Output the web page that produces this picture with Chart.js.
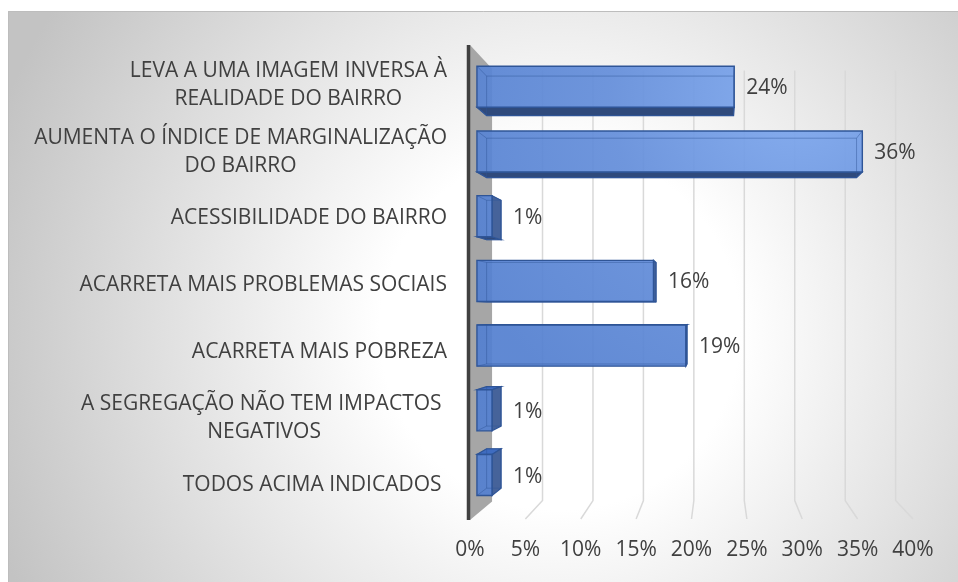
<!DOCTYPE html>
<html><head><meta charset="utf-8">
<script src="https://cdn.jsdelivr.net/npm/chart.js@4.4.1/dist/chart.umd.min.js"></script>
<style>html,body{margin:0;padding:0;background:#fff;overflow:hidden}canvas{display:block}</style>
</head><body>
<canvas id="c" width="958" height="582"></canvas>
<script>
// ---- data ----
const categories = [
  ["LEVA A UMA IMAGEM INVERSA À", "REALIDADE DO BAIRRO"],
  ["AUMENTA O ÍNDICE DE MARGINALIZAÇÃO", "DO BAIRRO"],
  ["ACESSIBILIDADE DO BAIRRO"],
  ["ACARRETA MAIS PROBLEMAS SOCIAIS"],
  ["ACARRETA MAIS POBREZA"],
  ["A SEGREGAÇÃO NÃO TEM IMPACTOS ", "NEGATIVOS"],
  ["TODOS ACIMA INDICADOS "]
];
const values = [23.9, 35.8, 1.4, 16.4, 19.4, 1.4, 1.4];
const tickValues = [0, 5, 10, 15, 20, 25, 30, 35, 40];

// ---- style ----
const FONT = "'Open Sans', 'DejaVu Sans', sans-serif";
const FS = 21;
const TEXT = '#404040';
const VP = {x: 718, y: 312};          // perspective vanishing point
const G_FRONT = 0.972, G_BACK = 0.933, G_WALL = 0.911;
function proj(x, y, g) { return [VP.x + (x - VP.x) * g, VP.y + (y - VP.y) * g]; }
function poly(ctx, pts, fill, stroke, lw) {
  ctx.beginPath(); ctx.moveTo(pts[0][0], pts[0][1]);
  for (let i = 1; i < pts.length; i++) ctx.lineTo(pts[i][0], pts[i][1]);
  ctx.closePath();
  if (fill) { ctx.fillStyle = fill; ctx.fill(); }
  if (stroke) { ctx.strokeStyle = stroke; ctx.lineWidth = lw || 1; ctx.stroke(); }
}

const bgPlugin = {
  id: 'bg',
  beforeDraw(chart) {
    const c = chart.ctx, W = chart.width, H = chart.height;
    c.save();
    c.fillStyle = '#fff'; c.fillRect(0, 0, W, H);
    const g = c.createRadialGradient(560, 330, 0, 560, 330, 600);
    g.addColorStop(0, '#ffffff'); g.addColorStop(0.3, '#ffffff'); g.addColorStop(1, '#c3c3c3');
    c.fillStyle = g; c.fillRect(8, 11, W - 8, H - 11);
    c.strokeStyle = '#bdbdbd'; c.lineWidth = 1;
    c.beginPath(); c.moveTo(8.5, H); c.lineTo(8.5, 11.5); c.lineTo(W, 11.5); c.stroke();
    c.restore();
  }
};

const wallPlugin = {
  id: 'wall',
  beforeDatasetsDraw(chart) {
    const c = chart.ctx, xs = chart.scales.x, ca = chart.chartArea;
    const floorY = ca.bottom + 6, topY = ca.top;
    c.save();
    c.strokeStyle = '#d9d9d9'; c.lineWidth = 1.5;
    tickValues.forEach(v => {
      if (v === 0) return;
      const X = xs.getPixelForValue(v);
      const t = proj(X, topY, G_WALL), b = proj(X, floorY, G_WALL);
      c.beginPath(); c.moveTo(t[0], t[1]); c.lineTo(b[0], b[1]); c.lineTo(X, floorY); c.stroke();
    });
    const X0 = xs.getPixelForValue(0);
    const ft = [X0, ca.top - 2], fb = [X0, floorY + 1];
    poly(c, [ft, proj(ft[0], ft[1], G_WALL), proj(fb[0], fb[1], G_WALL), fb], '#a6a6a6');
    c.strokeStyle = '#404040'; c.lineWidth = 3.5;
    c.beginPath(); c.moveTo(X0 - 1.5, ca.top - 2); c.lineTo(X0 - 1.5, floorY + 1); c.stroke();
    c.restore();
  }
};

const barsPlugin = {
  id: 'bars3d',
  afterDatasetsDraw(chart) {
    const c = chart.ctx, meta = chart.getDatasetMeta(0);
    c.save();
    const grad = c.createRadialGradient(800, 90, 0, 800, 90, 380);
    grad.addColorStop(0, 'rgba(128,170,240,0.93)');
    grad.addColorStop(0.5, 'rgba(100,142,218,0.93)');
    grad.addColorStop(1, 'rgba(84,128,208,0.93)');
    meta.data.forEach((el, i) => {
      const p = el.getProps(['x', 'y', 'base', 'height'], true);
      const x0 = Math.min(p.base, p.x), x1 = Math.max(p.base, p.x);
      const y0 = p.y - p.height / 2, y1 = p.y + p.height / 2;
      const F = {tl: proj(x0, y0, G_FRONT), tr: proj(x1, y0, G_FRONT), br: proj(x1, y1, G_FRONT), bl: proj(x0, y1, G_FRONT)};
      const B = {tl: proj(x0, y0, G_BACK), tr: proj(x1, y0, G_BACK), br: proj(x1, y1, G_BACK), bl: proj(x0, y1, G_BACK)};
      const edge = '#2f5597';
      if (B.bl[1] > F.bl[1]) poly(c, [F.bl, F.br, B.br, B.bl], '#2f4a7c', edge, 1.2);
      if (B.tl[1] < F.tl[1]) poly(c, [F.tl, F.tr, B.tr, B.tl], '#3f6cc0', edge, 1.2);
      if (B.tr[0] > F.tr[0]) poly(c, [F.tr, F.br, B.br, B.tr], '#46639a', edge, 1.2);
      poly(c, [F.tl, F.tr, F.br, F.bl], grad, edge, 1.4);
      c.strokeStyle = 'rgba(47,85,151,0.45)'; c.lineWidth = 1;
      c.beginPath();
      c.moveTo(B.tl[0], B.tl[1]); c.lineTo(B.tr[0], B.tr[1]); c.lineTo(B.br[0], B.br[1]); c.lineTo(B.bl[0], B.bl[1]); c.closePath();
      c.moveTo(F.tl[0], F.tl[1]); c.lineTo(B.tl[0], B.tl[1]);
      c.moveTo(F.tr[0], F.tr[1]); c.lineTo(B.tr[0], B.tr[1]);
      c.moveTo(F.bl[0], F.bl[1]); c.lineTo(B.bl[0], B.bl[1]);
      c.stroke();
      c.fillStyle = TEXT; c.font = FS + 'px ' + FONT;
      c.textAlign = 'left'; c.textBaseline = 'alphabetic';
      const lx = Math.max(F.tr[0], B.tr[0]) + 12;
      const ly = (F.tl[1] + F.bl[1]) / 2 + 7.5;
      c.fillText(Math.round(values[i]) + '%', lx, ly);
    });
    c.restore();
  }
};

const catLabelPlugin = {
  id: 'catLabels',
  afterDraw(chart) {
    const c = chart.ctx, ys = chart.scales.y, xs = chart.scales.x;
    c.save();
    c.fillStyle = TEXT; c.font = FS + 'px ' + FONT;
    c.textAlign = 'center'; c.textBaseline = 'alphabetic';
    const right = xs.left - 23;
    categories.forEach((lines, i) => {
      const Y = ys.getPixelForValue(i) + 3.5;
      const w = Math.max(...lines.map(s => c.measureText(s).width));
      const cx = right - w / 2;
      const n = lines.length;
      lines.forEach((s, j) => c.fillText(s, cx, Y + (j - (n - 1) / 2) * 28 + 7.5));
    });
    c.restore();
  }
};

new Chart(document.getElementById('c'), {
  type: 'bar',
  data: {
    labels: categories,
    datasets: [{
      data: values,
      backgroundColor: 'rgba(0,0,0,0)',
      borderWidth: 0,
      barPercentage: 0.635,
      categoryPercentage: 1
    }]
  },
  options: {
    indexAxis: 'y',
    responsive: false,
    animation: false,
    events: [],
    layout: {padding: {left: 470, right: 45, top: 47, bottom: 0}},
    plugins: {legend: {display: false}, tooltip: {enabled: false}},
    scales: {
      x: {
        min: 0, max: 40,
        grid: {display: false, drawTicks: false},
        border: {display: false},
        afterBuildTicks: s => { s.ticks = tickValues.map(v => ({value: v})); },
        afterFit: s => { s.height = 69; },
        ticks: {
          color: TEXT, padding: 24, maxRotation: 0, autoSkip: false,
          font: {family: FONT, size: FS},
          callback: v => v + '%'
        }
      },
      y: {display: false, grid: {display: false}}
    }
  },
  plugins: [bgPlugin, wallPlugin, barsPlugin, catLabelPlugin]
});
</script>
</body></html>
